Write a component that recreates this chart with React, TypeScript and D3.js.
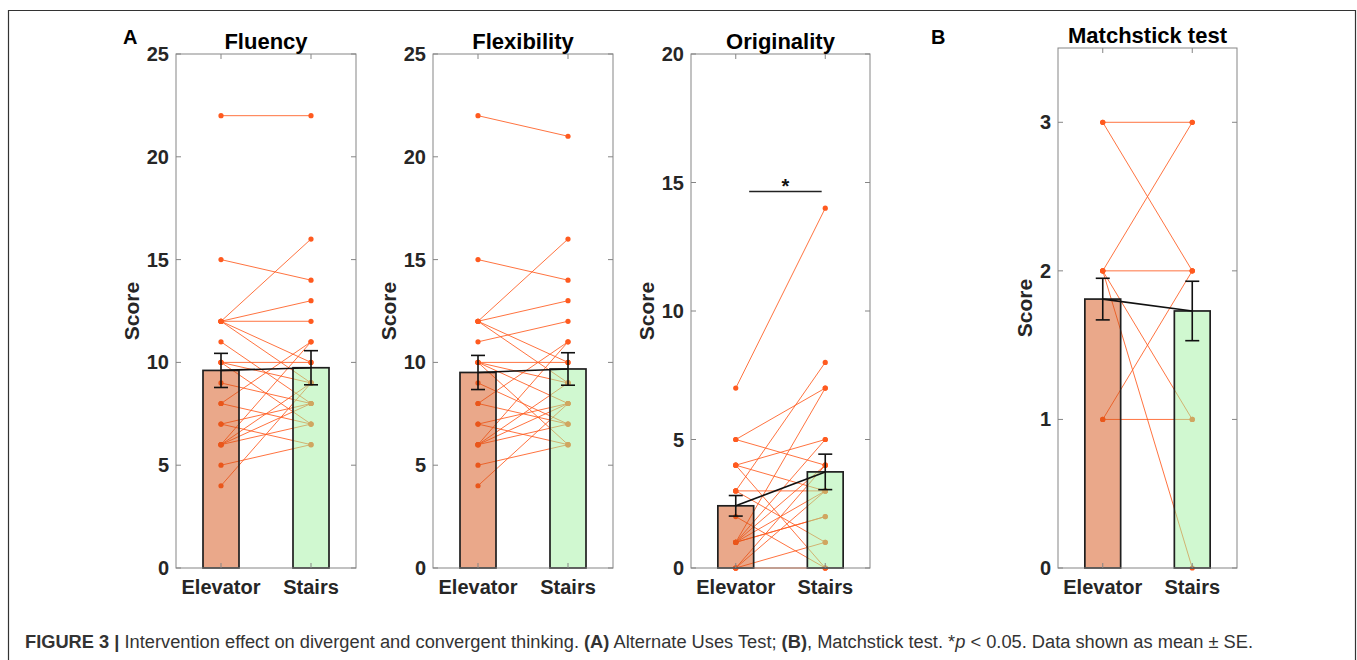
import React from 'react';
import * as d3 from 'd3';

const categories = ['Elevator', 'Stairs'];

// paired scores: elevator[i] -> stairs[i] is one participant
const fluencyElevator = [22, 15, 12, 12, 12, 12, 12, 11, 10, 10, 10, 9, 8, 8, 7, 7, 6, 6, 6, 6, 5, 4];
const fluencyStairs = [22, 14, 16, 13, 12, 10, 9, 8, 10, 9, 7, 8, 11, 7, 8, 6, 11, 9, 7, 8, 6, 9];
const fluencyMean = [9.61, 9.74];
const fluencySE = [0.83, 0.83];

const flexElevator = [22, 15, 12, 12, 12, 12, 11, 10, 10, 10, 10, 9, 8, 8, 7, 7, 6, 6, 6, 6, 5, 4];
const flexStairs = [21, 14, 16, 13, 10, 9, 12, 10, 9, 8, 6, 7, 11, 7, 8, 6, 11, 9, 8, 7, 6, 8];
const flexMean = [9.51, 9.68];
const flexSE = [0.83, 0.79];

const origElevator = [7, 5, 5, 4, 4, 4, 3, 3, 3, 2, 1, 1, 1, 1, 1, 1, 0, 0, 0, 0];
const origStairs = [14, 7, 4, 5, 3, 0, 8, 3, 1, 0, 7, 5, 4, 3, 2, 2, 4, 3, 0, 1];
const origMean = [2.42, 3.74];
const origSE = [0.4, 0.69];

const matchElevator = [3, 3, 2, 2, 2, 2, 1, 1];
const matchStairs = [3, 2, 3, 2, 1, 0, 2, 1];
const matchMean = [1.81, 1.73];
const matchSE = [0.14, 0.2];

const autTicks = [0, 5, 10, 15, 20, 25];
const origTicks = [0, 5, 10, 15, 20];
const matchTicks = [0, 1, 2, 3];

const FONT = '"Liberation Sans", Arial, Helvetica, sans-serif';
const ORANGE = '#ff5a1f';

const panels = [
  { title: 'Fluency', left: 176, right: 356, top: 54, yMax: 25, ticks: autTicks, el: fluencyElevator, st: fluencyStairs, mean: fluencyMean, se: fluencySE, lab: 45, titleY: 49 },
  { title: 'Flexibility', left: 433, right: 613, top: 54, yMax: 25, ticks: autTicks, el: flexElevator, st: flexStairs, mean: flexMean, se: flexSE, lab: 45, titleY: 49 },
  { title: 'Originality', left: 691, right: 870, top: 54, yMax: 20, ticks: origTicks, el: origElevator, st: origStairs, mean: origMean, se: origSE, lab: 45, titleY: 49 },
  { title: 'Matchstick test', left: 1058, right: 1237, top: 48, yMax: 3.5, ticks: matchTicks, el: matchElevator, st: matchStairs, mean: matchMean, se: matchSE, lab: 34, titleY: 43 },
];

const bottom = 568;

function Panel({ p }: { p: any }) {
  const x = d3.scaleLinear().domain([0.5, 2.5]).range([p.left, p.right]);
  const y = d3.scaleLinear().domain([0, p.yMax]).range([bottom, p.top]);
  const bw = 0.2;
  const fills = ['#d55115', '#a1f1a1'];
  return (
    <g>
      {/* participant lines */}
      {p.el.map((v: number, i: number) => (
        <line key={'l' + i} x1={x(1)} y1={y(v)} x2={x(2)} y2={y(p.st[i])} stroke={ORANGE} strokeWidth={1} strokeOpacity={0.85} />
      ))}
      {p.el.map((v: number, i: number) => (
        <circle key={'a' + i} cx={x(1)} cy={y(v)} r={2.6} fill={ORANGE} />
      ))}
      {p.st.map((v: number, i: number) => (
        <circle key={'b' + i} cx={x(2)} cy={y(v)} r={2.6} fill={ORANGE} />
      ))}
      {/* bars */}
      {p.mean.map((m: number, i: number) => (
        <rect key={'r' + i} x={x(i + 1 - bw)} y={y(m)} width={x(i + 1 + bw) - x(i + 1 - bw)} height={bottom - y(m)}
          fill={fills[i]} fillOpacity={0.5} stroke="#1f1f1f" strokeWidth={1.7} />
      ))}
      {/* axes box */}
      <rect x={p.left} y={p.top} width={p.right - p.left} height={bottom - p.top} fill="none" stroke="#858585" strokeWidth={1} />
      {p.ticks.map((t: number) => (
        <g key={'t' + t}>
          <line x1={p.left} x2={p.left + 5} y1={y(t)} y2={y(t)} stroke="#858585" />
          <line x1={p.right} x2={p.right - 5} y1={y(t)} y2={y(t)} stroke="#858585" />
          <text x={p.left - 7} y={y(t)} textAnchor="end" dominantBaseline="central" fontSize={20} fontWeight="bold" fill="#262626" fontFamily={FONT}>{t}</text>
        </g>
      ))}
      {categories.map((c, i) => (
        <g key={c}>
          <line x1={x(i + 1)} x2={x(i + 1)} y1={bottom} y2={bottom - 5} stroke="#858585" />
          <line x1={x(i + 1)} x2={x(i + 1)} y1={p.top} y2={p.top + 5} stroke="#858585" />
          <text x={x(i + 1)} y={594} textAnchor="middle" fontSize={20} fontWeight="bold" fill="#262626" fontFamily={FONT}>{c}</text>
        </g>
      ))}
      {/* mean connection and error bars */}
      <line x1={x(1)} y1={y(p.mean[0])} x2={x(2)} y2={y(p.mean[1])} stroke="#111" strokeWidth={1.6} />
      {p.mean.map((m: number, i: number) => (
        <g key={'e' + i} stroke="#111" strokeWidth={1.6}>
          <line x1={x(i + 1)} x2={x(i + 1)} y1={y(m - p.se[i])} y2={y(m + p.se[i])} />
          <line x1={x(i + 1) - 7} x2={x(i + 1) + 7} y1={y(m - p.se[i])} y2={y(m - p.se[i])} />
          <line x1={x(i + 1) - 7} x2={x(i + 1) + 7} y1={y(m + p.se[i])} y2={y(m + p.se[i])} />
        </g>
      ))}
      <text x={(p.left + p.right) / 2} y={p.titleY} textAnchor="middle" fontSize={22} fontWeight="bold" fill="#000" fontFamily={FONT}>{p.title}</text>
      <text transform={`translate(${p.left - p.lab},${(p.top + bottom) / 2}) rotate(-90)`} textAnchor="middle" dominantBaseline="central"
        fontSize={21} fontWeight="bold" fill="#262626" fontFamily={FONT}>Score</text>
    </g>
  );
}

export default function App() {
  const orig = panels[2];
  const ox = d3.scaleLinear().domain([0.5, 2.5]).range([orig.left, orig.right]);
  return (
    <svg width={1357} height={660} style={{ position: 'absolute', left: 0, top: 0, display: 'block', background: '#fff' }}>
      <path d="M8.5,660 V10.5 H1355.5 V660" fill="none" stroke="#333" strokeWidth={1.2} />
      {panels.map((p) => <Panel key={p.title} p={p} />)}
      {/* significance marker */}
      <line x1={ox(1.15)} x2={ox(1.96)} y1={191.5} y2={191.5} stroke="#222" strokeWidth={1.6} />
      <text x={(ox(1.15) + ox(1.96)) / 2} y={193} textAnchor="middle" fontSize={20} fontWeight="bold" fontFamily={FONT} fill="#111">*</text>
      <text x={123} y={44} fontSize={20} fontWeight="bold" fontFamily={FONT} fill="#000">A</text>
      <text x={931} y={44} fontSize={20} fontWeight="bold" fontFamily={FONT} fill="#000">B</text>
      <text x={25} y={648} fontSize={18} fontFamily={FONT} fill="#333" textLength={1228} lengthAdjust="spacingAndGlyphs">
        <tspan fontWeight="bold">FIGURE 3 |</tspan>
        <tspan> Intervention effect on divergent and convergent thinking. </tspan>
        <tspan fontWeight="bold">(A)</tspan>
        <tspan> Alternate Uses Test; </tspan>
        <tspan fontWeight="bold">(B)</tspan>
        <tspan>, Matchstick test. *</tspan>
        <tspan fontStyle="italic">p</tspan>
        <tspan> {'<'} 0.05. Data shown as mean ± SE.</tspan>
      </text>
    </svg>
  );
}
